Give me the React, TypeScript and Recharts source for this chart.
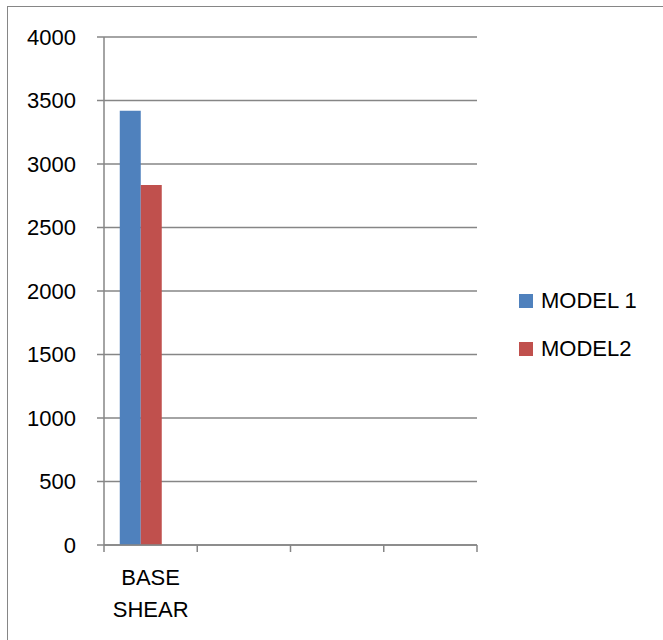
import { Bar, BarChart, CartesianGrid, Legend, XAxis, YAxis } from "recharts";

// Base shear per model; only the first category holds values, the rest stay empty
const categories = ["BASE SHEAR", "", "", ""];
const model1 = [3420, null, null, null];
const model2 = [2835, null, null, null];
const yTicks = [0, 500, 1000, 1500, 2000, 2500, 3000, 3500, 4000];

const data = categories.map((name, i) => ({
	name,
	model1: model1[i],
	model2: model2[i],
	spare: null,
}));

const FONT = "'Liberation Sans', Arial, sans-serif";
const FONT_SIZE = 22;
const AXIS_GREY = "#868686";

// Category label split on spaces, with tick marks on the band edges
const CategoryTick = (props: any) => {
	const { x, y, payload, index, visibleTicksCount } = props;
	const half = payload?.offset ?? 0;
	const words = String(payload.value).split(" ").filter(Boolean);
	const isLast = index === visibleTicksCount - 1;
	return (
		<g>
			<line x1={x - half} x2={x - half} y1={y - 7} y2={y} stroke={AXIS_GREY} strokeWidth={1.5} />
			{isLast && (
				<line x1={x + half} x2={x + half} y1={y - 7} y2={y} stroke={AXIS_GREY} strokeWidth={1.5} />
			)}
			<text x={x} y={y} textAnchor="middle" fontFamily={FONT} fontSize={FONT_SIZE} fill="#000">
				{words.map((w, i) => (
					<tspan key={w} x={x} dy={i === 0 ? 33 : 32}>
						{w}
					</tspan>
				))}
			</text>
		</g>
	);
};

// Legend skips the padding series (legendType "none")
const SeriesLegend = ({ payload }: any) => (
	<div style={{ fontFamily: FONT, fontSize: FONT_SIZE, color: "#000" }}>
		{(payload || [])
			.filter((entry: any) => entry.type !== "none")
			.map((entry: any) => (
				<div key={entry.value} style={{ display: "flex", alignItems: "center", height: 48 }}>
					<span style={{ width: 14, height: 14, background: entry.color, marginRight: 8 }} />
					<span>{entry.value}</span>
				</div>
			))}
	</div>
);

export default function App() {
	return (
		<div
			style={{
				position: "fixed",
				left: 0,
				top: 0,
				width: 663,
				height: 640,
				overflow: "hidden",
				background: "#fff",
			}}
		>
			<div
				style={{
					position: "absolute",
					left: 7,
					top: 6,
					width: 720,
					height: 720,
					border: `1.5px solid ${AXIS_GREY}`,
				}}
			/>
			<BarChart
				width={663}
				height={640}
				data={data}
				margin={{ top: 37, right: 186, bottom: 0, left: 0 }}
				barCategoryGap="16.9%"
				barGap={0}
				style={{ position: "absolute", left: 0, top: 0 }}
			>
				<CartesianGrid vertical={false} stroke={AXIS_GREY} strokeWidth={1.5} />
				<XAxis
					dataKey="name"
					height={95}
					stroke={AXIS_GREY}
					strokeWidth={1.5}
					tickLine={false}
					tickSize={7}
					tickMargin={0}
					interval={0}
					tick={<CategoryTick />}
				/>
				<YAxis
					width={104}
					domain={[0, 4000]}
					ticks={yTicks}
					interval={0}
					stroke={AXIS_GREY}
					strokeWidth={1.5}
					tickSize={7}
					tickMargin={21}
					tick={{ fill: "#000", fontSize: FONT_SIZE, fontFamily: FONT }}
				/>
				<Legend
					layout="vertical"
					align="center"
					verticalAlign="middle"
					content={<SeriesLegend />}
					wrapperStyle={{ left: 519, top: 277, width: 144 }}
				/>
				<Bar dataKey="model1" name="MODEL 1" fill="#4f81bd" isAnimationActive={false} />
				<Bar dataKey="model2" name="MODEL2" fill="#c0504d" isAnimationActive={false} />
				<Bar dataKey="spare" legendType="none" fill="#9bbb59" isAnimationActive={false} />
			</BarChart>
		</div>
	);
}
